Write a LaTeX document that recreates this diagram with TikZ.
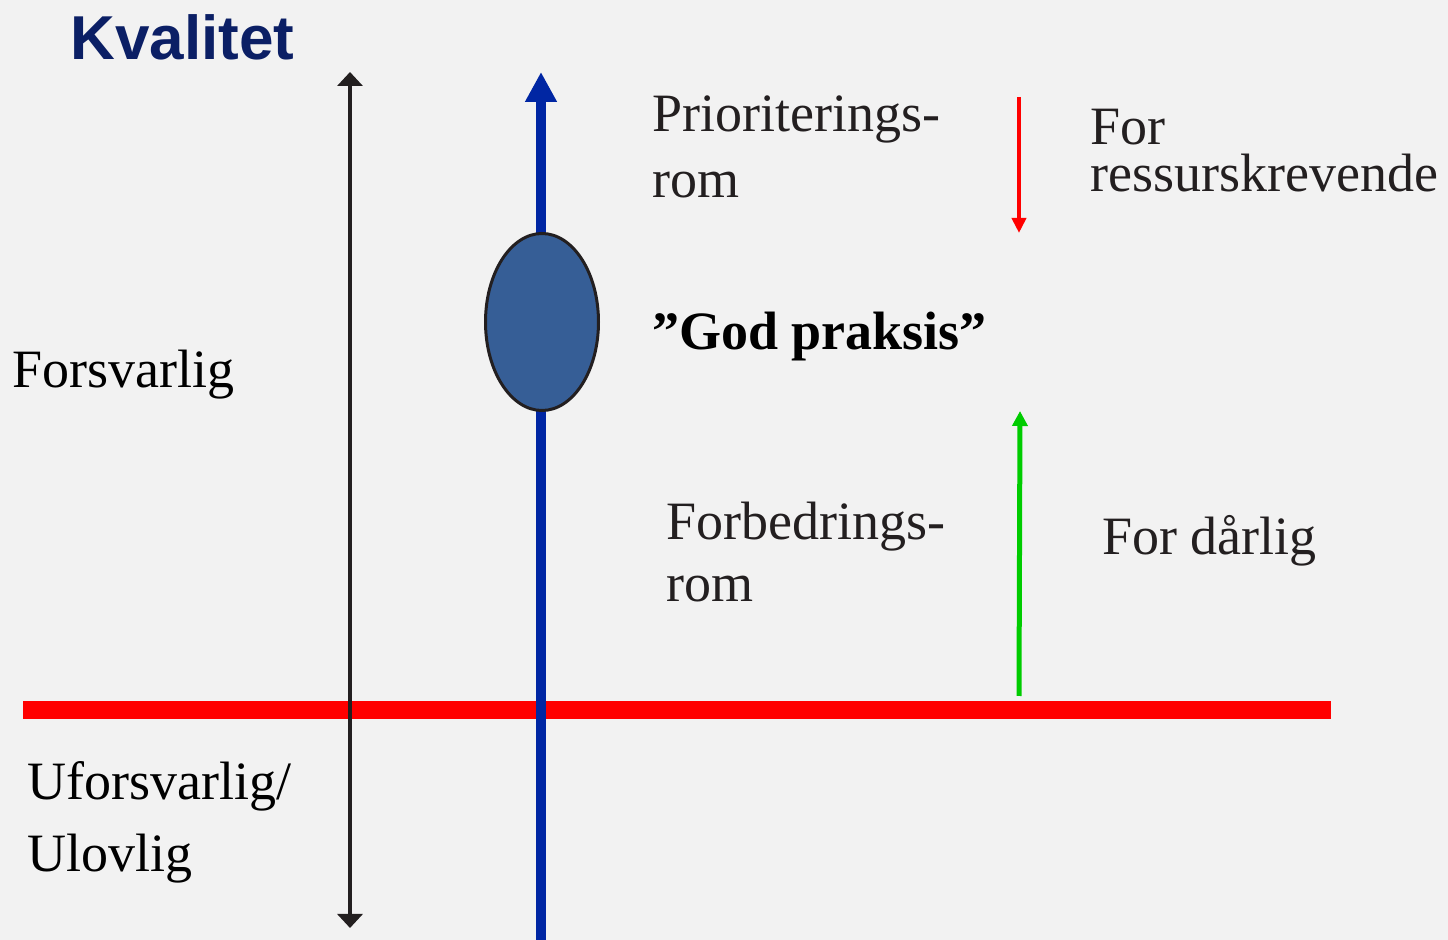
\documentclass[tikz,border=0pt]{standalone}
\usepackage{fontspec}
\setmainfont{Liberation Serif}
\newfontfamily\headfont{Liberation Sans}
\usepackage{tikz}
\usetikzlibrary{arrows.meta,positioning,calc,shapes.geometric}
\definecolor{bgGrey}{HTML}{F2F2F2}
\definecolor{txtDark}{HTML}{231F20}
\definecolor{axisBlue}{HTML}{0026A3}
\definecolor{kvalBlue}{HTML}{0B1F65}
\definecolor{ovalBlue}{HTML}{365E96}
\definecolor{limitRed}{HTML}{FF0000}
\definecolor{upGreen}{HTML}{00CC00}

\begin{document}
\begin{tikzpicture}[x=0.5pt,y=-0.5pt,
    lbl/.style={anchor=base west,inner sep=0pt,align=left,text=txtDark},
    big/.style={font=\fontsize{27}{33}\selectfont}]
        \useasboundingbox[fill=bgGrey] (0,0) rectangle (1448,940);
        % limit line
        \coordinate (limL) at (23,710);
        \coordinate (limR) at (1331,710);
        \draw[line width=9pt,limitRed] (limL) -- (limR);
        % axes
        \coordinate (axTop) at (350,72);
        \coordinate (axBot) at (350,928);
        \draw[line width=2.2pt,txtDark,{Triangle[length=7pt,width=12.5pt]}-{Triangle[length=7pt,width=12.5pt]}] (axBot) -- (axTop);
        \coordinate (qTop) at (541,72);
        \coordinate (qBot) at (541,945);
        \draw[line width=5pt,axisBlue,-{Triangle[length=15pt,width=15pt]}] (qBot) -- (qTop);
        \node[draw=txtDark,line width=1.5pt,fill=ovalBlue,ellipse,
              inner sep=0pt,minimum width=56.5pt,minimum height=88.5pt] (oval) at (542,322) {};
        % small arrows
        \coordinate (rTop) at (1019,97);
        \coordinate (rBot) at (1019,233);
        \draw[line width=2pt,limitRed,-{Triangle[length=7.5pt,width=7pt]}] (rTop) -- (rBot);
        \coordinate (gBot) at (1019,696);
        \coordinate (gTop) at (1020,411);
        \draw[line width=2.5pt,upGreen,-{Triangle[length=7.5pt,width=7.5pt]}] (gBot) -- (gTop);
        % labels (base anchor = last line)
        \node[lbl,text=kvalBlue,font=\headfont\bfseries\fontsize{31}{36}\selectfont] (kval) at (70,60) {Kvalitet};
        \node[lbl,big,text=black] (forsv) at (12,388) {Forsvarlig};
        \node[lbl,text=black,font=\fontsize{27}{36}\selectfont] (uforsv) at (27,872) {Uforsvarlig/\\Ulovlig};
        \node[lbl,big] (prio) at (652,198) {Prioriterings-\\rom};
        \node[lbl,text=black,font=\bfseries\fontsize{27}{33}\selectfont] (god) at (652,350) {”God praksis”};
        \node[lbl,font=\fontsize{27}{31}\selectfont] (forb) at (666,602) {Forbedrings-\\rom};
        \node[lbl,font=\fontsize{27}{23.5}\selectfont] (ress) at (1090,192) {For\\ressurskrevende};
        \node[lbl,big] (darl) at (1102,555) {For dårlig};
      \end{tikzpicture}
\end{document}
